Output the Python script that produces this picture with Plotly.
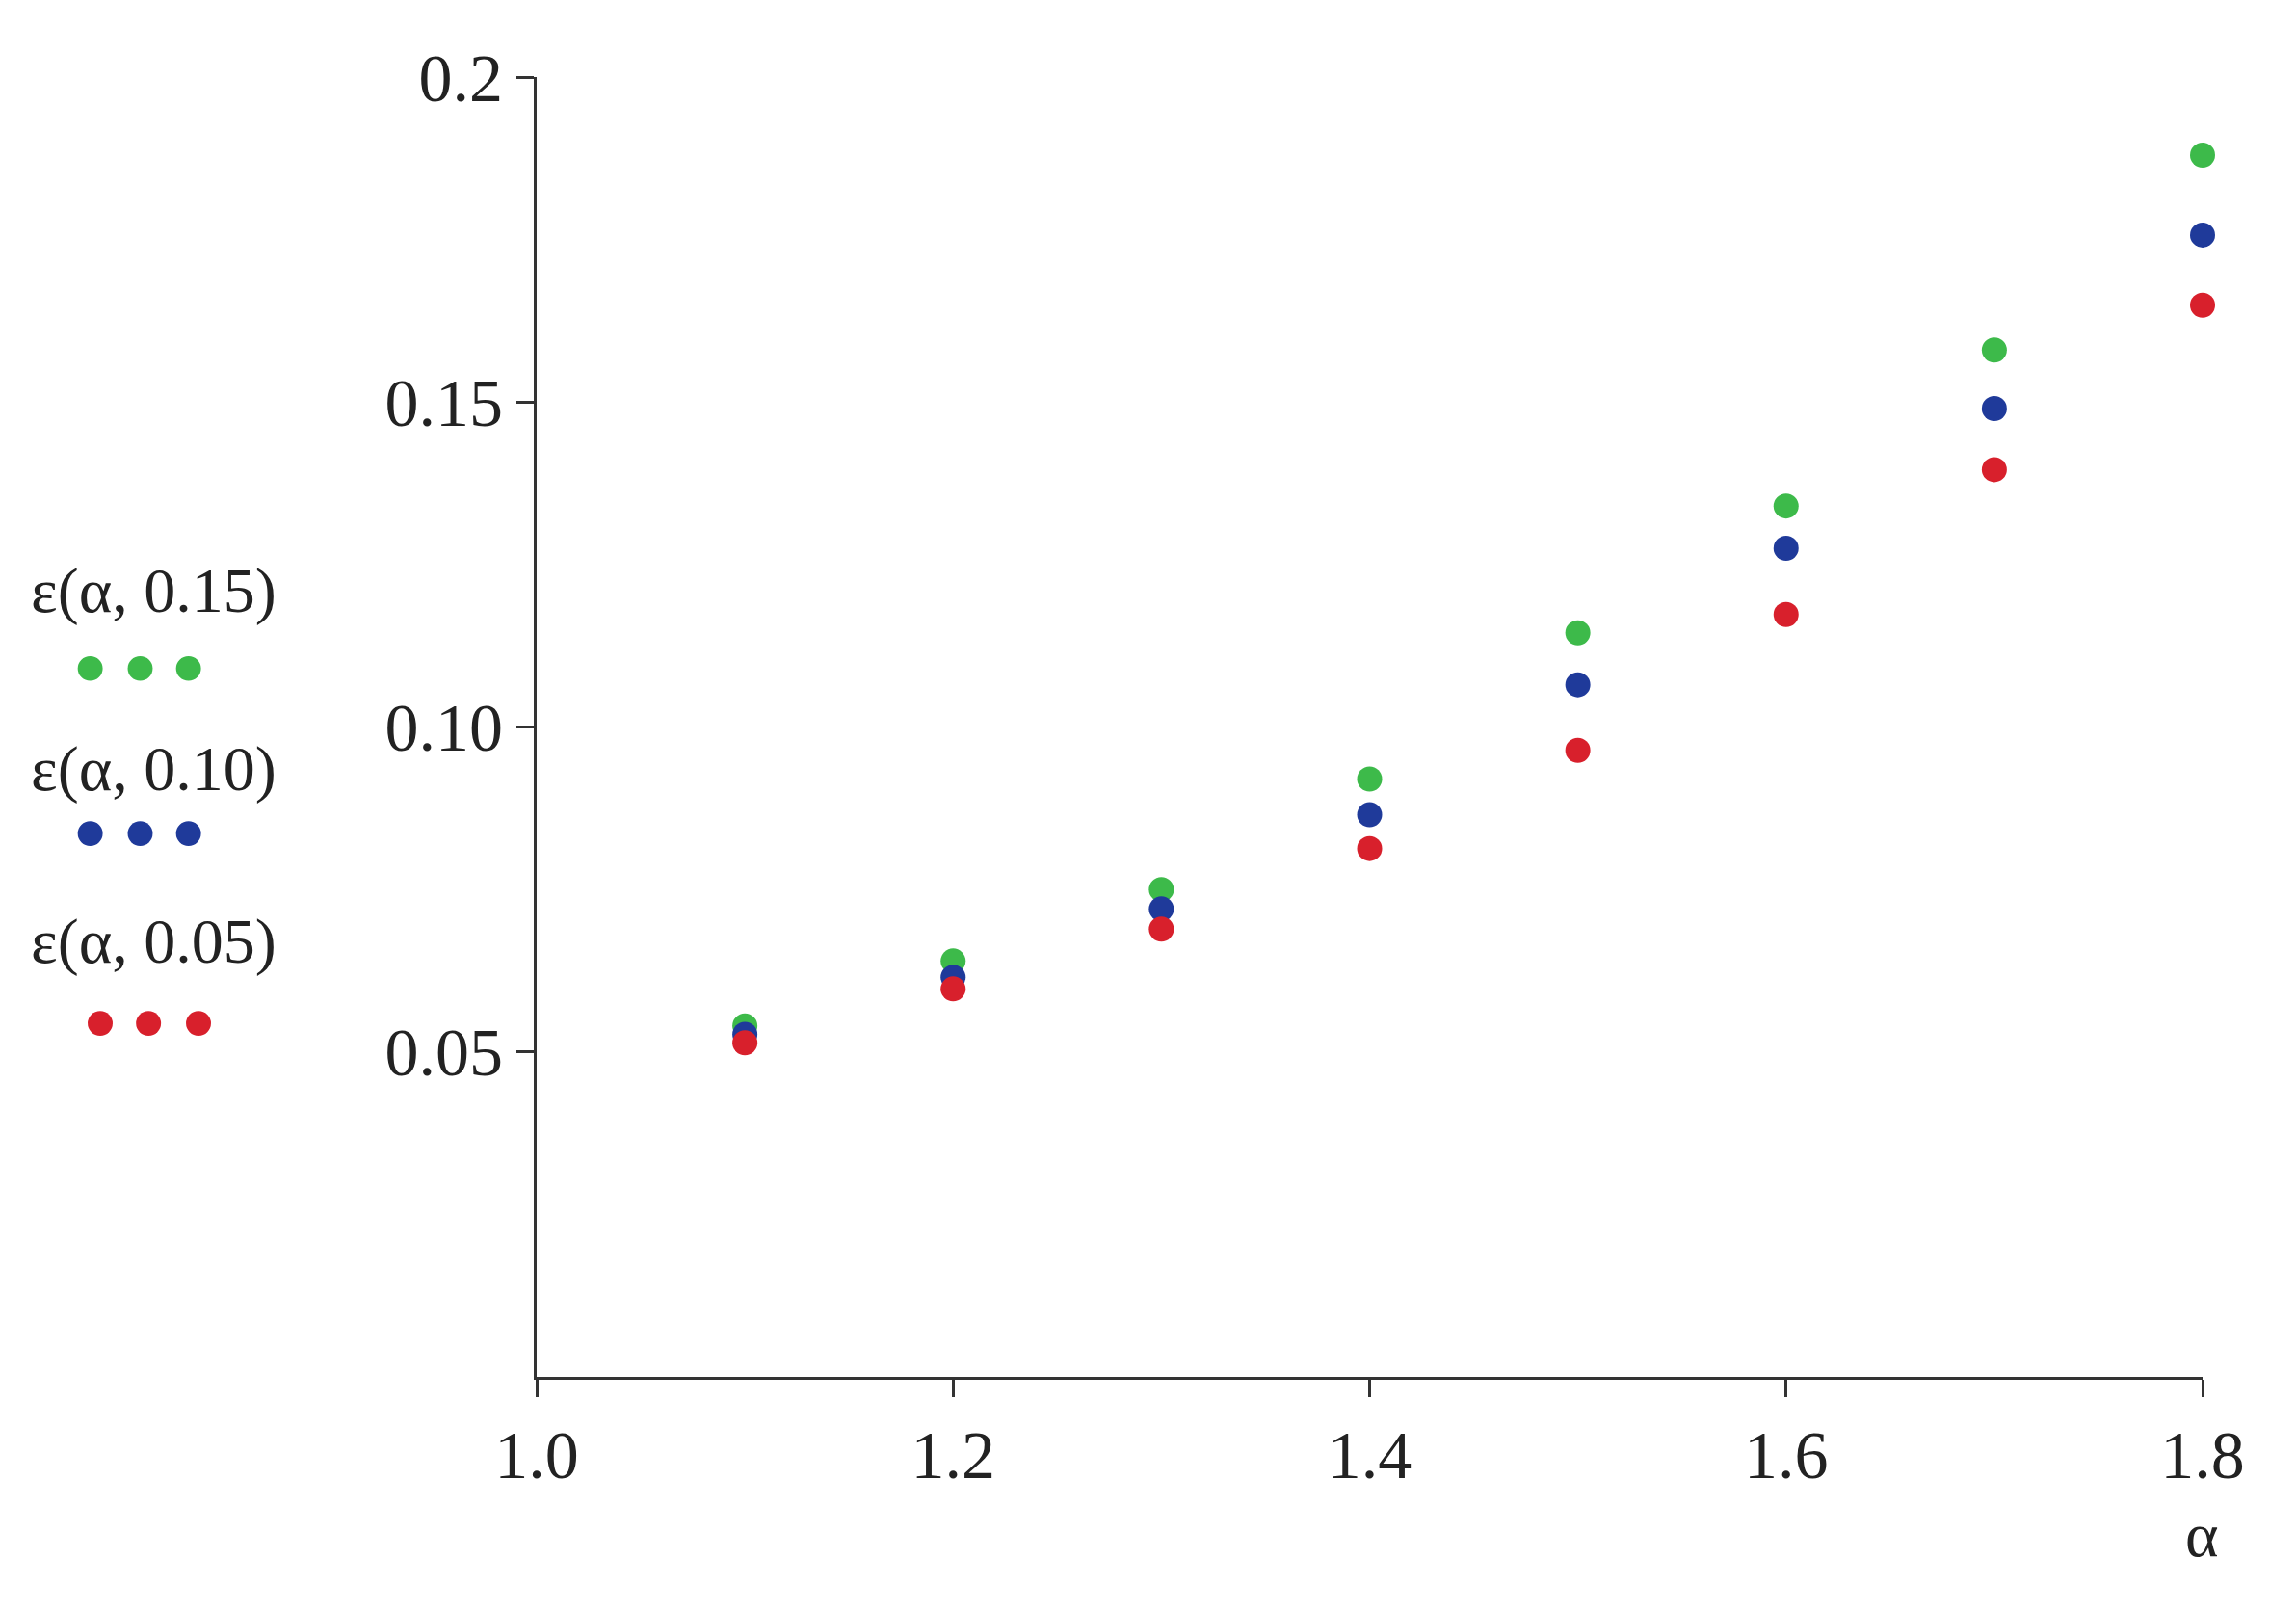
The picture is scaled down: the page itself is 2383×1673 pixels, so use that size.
import plotly.graph_objects as go

alpha = [1.1, 1.2, 1.3, 1.4, 1.5, 1.6, 1.7, 1.8]
eps_015 = [0.054, 0.064, 0.075, 0.092, 0.1145, 0.134, 0.158, 0.188]
eps_010 = [0.0527, 0.0615, 0.072, 0.0865, 0.1065, 0.1275, 0.149, 0.1757]
eps_005 = [0.0514, 0.0597, 0.0689, 0.0813, 0.0964, 0.1173, 0.1396, 0.1649]
x_ticks = [1.0, 1.2, 1.4, 1.6, 1.8]
x_labels = ["1.0", "1.2", "1.4", "1.6", "1.8"]
y_ticks = [0.05, 0.10, 0.15, 0.2]
y_labels = ["0.05", "0.10", "0.15", "0.2"]
series = [("ε(α, 0.15)", eps_015, "#3dba4a"), ("ε(α, 0.10)", eps_010, "#1f3a9a"), ("ε(α, 0.05)", eps_005, "#d8202c")]

FONT = "Liberation Serif"
fig = go.Figure()
for name, ys, col in series:
    fig.add_trace(go.Scatter(x=alpha, y=ys, mode="markers", name=name,
                             marker=dict(color=col, size=26), cliponaxis=False))

ann = []
shapes = []
leg = [(0.605, 0.545, [-0.268, -0.238, -0.209]),
       (0.468, 0.418, [-0.268, -0.238, -0.209]),
       (0.335, 0.272, [-0.262, -0.233, -0.203])]
for (name, ys, col), (ty, dy, dxs) in zip(series, leg):
    ann.append(dict(x=-0.305, y=ty, xref="paper", yref="paper", text=name, showarrow=False,
                    xanchor="left", font=dict(family=FONT, size=66, color="#222")))
    for dx in dxs:
        shapes.append(dict(type="circle", xref="paper", yref="paper",
                           x0=dx - 0.0075, x1=dx + 0.0075, y0=dy - 0.0095, y1=dy + 0.0095,
                           fillcolor=col, line=dict(width=0)))
ann.append(dict(x=1.011, y=-0.15, xref="paper", yref="paper", text="α", showarrow=False,
                font=dict(family=FONT, size=66, color="#222")))

fig.update_layout(
    width=2383, height=1673, plot_bgcolor="white", paper_bgcolor="white",
    margin=dict(l=549, r=105, t=72, b=252), showlegend=False,
    annotations=ann, shapes=shapes,
    font=dict(family=FONT, size=70, color="#222"),
)
fig.update_xaxes(range=[1.0, 1.8], tickvals=x_ticks, ticktext=x_labels, showgrid=False,
                 zeroline=False, showline=True, linecolor="#333", linewidth=3,
                 ticks="outside", ticklen=18, tickwidth=3, tickcolor="#333")
fig.update_yaxes(range=[0, 0.2], tickvals=y_ticks, ticktext=y_labels, showgrid=False,
                 zeroline=False, showline=True, linecolor="#333", linewidth=3,
                 ticks="outside", ticklen=18, tickwidth=3, tickcolor="#333")
fig.write_html("out.html")
